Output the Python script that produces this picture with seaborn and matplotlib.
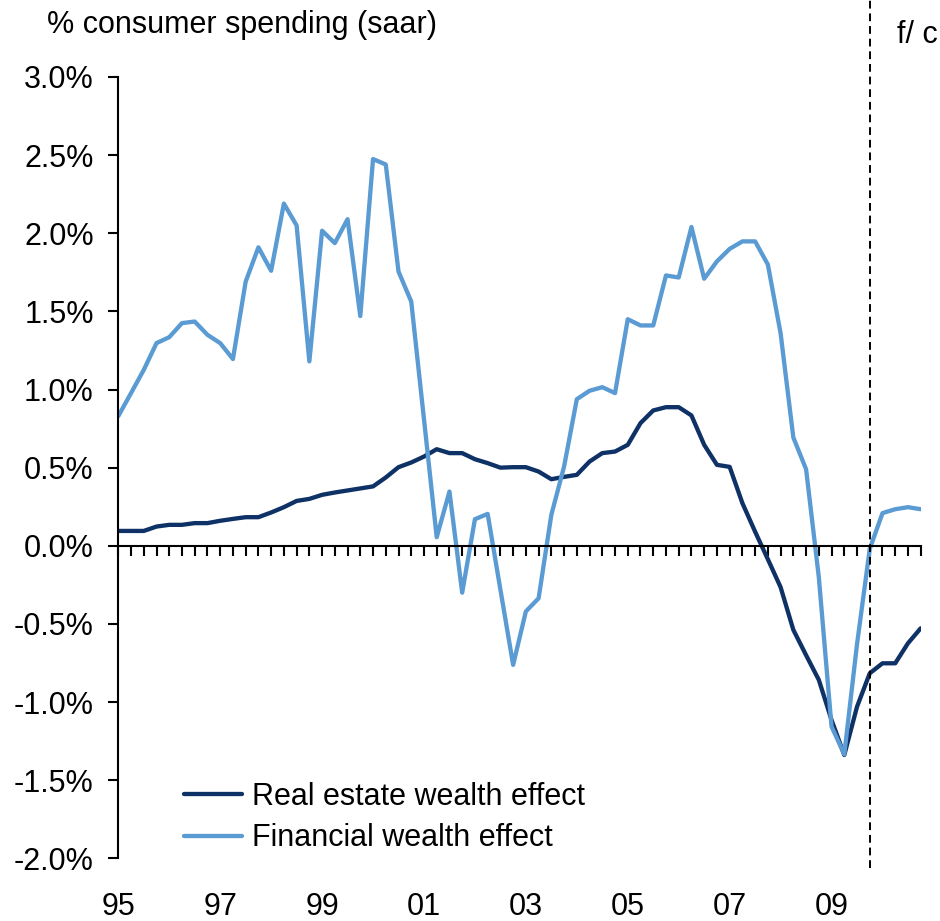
import matplotlib
matplotlib.use("Agg")
import matplotlib.pyplot as plt
import seaborn as sns
import pandas as pd
import numpy as np

# Quarterly data, 1995Q1 .. 2010Q4 (index 0..63)
quarters = list(range(64))

real_estate = [
    0.095, 0.095, 0.095, 0.123, 0.134, 0.134, 0.145, 0.145,   # 95-96
    0.160, 0.172, 0.183, 0.183, 0.213, 0.247, 0.287, 0.300,   # 97-98
    0.326, 0.341, 0.354, 0.367, 0.380, 0.437, 0.503, 0.533,   # 99-00
    0.571, 0.618, 0.593, 0.593, 0.554, 0.529, 0.500, 0.503,   # 01-02
    0.503, 0.475, 0.426, 0.441, 0.454, 0.539, 0.593, 0.603,   # 03-04
    0.646, 0.785, 0.866, 0.887, 0.887, 0.834, 0.646, 0.518,   # 05-06
    0.505, 0.273, 0.090, -0.086, -0.265, -0.538, -0.700, -0.858,  # 07-08
    -1.115, -1.339, -1.030, -0.816, -0.752, -0.752, -0.624, -0.528,  # 09-10
]

financial = [
    0.830, 0.977, 1.126, 1.297, 1.335, 1.425, 1.435, 1.350,   # 95-96
    1.297, 1.195, 1.690, 1.910, 1.760, 2.190, 2.050, 1.180,   # 97-98
    2.016, 1.937, 2.090, 1.470, 2.475, 2.440, 1.755, 1.563,   # 99-00
    0.810, 0.055, 0.347, -0.300, 0.170, 0.204, -0.280, -0.762,  # 01-02
    -0.420, -0.336, 0.198, 0.507, 0.938, 0.992, 1.015, 0.977,  # 03-04
    1.450, 1.410, 1.410, 1.730, 1.717, 2.040, 1.709, 1.820,   # 05-06
    1.900, 1.948, 1.948, 1.800, 1.360, 0.693, 0.490, -0.200,  # 07-08
    -1.157, -1.335, -0.630, -0.020, 0.209, 0.234, 0.247, 0.234,  # 09-10
]

series_names = ["Real estate wealth effect", "Financial wealth effect"]
series_colors = ["#0E3166", "#5B9BD3"]
year_ticks = [0, 8, 16, 24, 32, 40, 48, 56]
year_labels = ["95", "97", "99", "01", "03", "05", "07", "09"]
y_ticks = [-2.0, -1.5, -1.0, -0.5, 0.0, 0.5, 1.0, 1.5, 2.0, 2.5, 3.0]
forecast_start = 59

df = pd.concat([
    pd.DataFrame({"q": quarters, "value": real_estate, "series": series_names[0]}),
    pd.DataFrame({"q": quarters, "value": financial, "series": series_names[1]}),
])

sns.set_theme(style="white")
plt.rcParams["font.family"] = ["Liberation Sans", "DejaVu Sans"]
plt.rcParams["text.color"] = "black"
FS = 22
LW = 3.1

fig = plt.figure(figsize=(9.4, 9.21), dpi=100)
ax = fig.add_axes([118.3 / 940, 1 - 858.3 / 921, (920.7 - 118.3) / 940, (858.3 - 77) / 921])

sns.lineplot(data=df, x="q", y="value", hue="series", hue_order=series_names,
             palette=series_colors, linewidth=LW, ax=ax, legend=False)

ax.set_xlim(0, 63)
ax.set_ylim(-2.0, 3.0)
ax.set_xlabel("")
ax.set_ylabel("")

# y axis
ax.set_yticks(y_ticks)
ax.set_yticklabels([f"{v:.1f}%" for v in y_ticks], fontsize=FS, color="black")
ax.tick_params(axis="y", direction="out", length=7.2, width=1.5, color="black",
               pad=10.5, left=True)

# spines
for s in ["top", "right"]:
    ax.spines[s].set_visible(False)
ax.spines["left"].set_color("black")
ax.spines["left"].set_linewidth(1.5)
ax.spines["bottom"].set_position(("data", 0))
ax.spines["bottom"].set_color("black")
ax.spines["bottom"].set_linewidth(1.5)

# quarterly tick marks on zero line
ax.set_xticks(quarters)
ax.set_xticklabels([])
ax.tick_params(axis="x", direction="out", length=7.2, width=1.5, color="black", bottom=True)

# year labels at bottom
sec = ax.secondary_xaxis(0.0)
sec.set_xticks(year_ticks)
sec.set_xticklabels(year_labels, fontsize=FS, color="black")
sec.tick_params(length=0, pad=24)
sec.spines["bottom"].set_visible(False)

# forecast divider
ax.axvline(forecast_start, ymin=-0.0124, ymax=77 / 781 + 1.0, clip_on=False,
           color="black", linewidth=1.4, linestyle=(0, (4, 2.5)))

# legend
handles = [plt.Line2D([], [], color=c, linewidth=LW) for c in series_colors]
leg = ax.legend(handles, series_names, loc="upper left", bbox_to_anchor=(0.082, 0.098),
                frameon=False, fontsize=FS, handlelength=1.9, handletextpad=0.33,
                labelspacing=0.38, borderpad=0, borderaxespad=0)
for t in leg.get_texts():
    t.set_color("black")

fig.text(47 / 940, 1 - 33 / 921, "% consumer spending (saar)", fontsize=FS,
         ha="left", va="baseline", color="black")
fig.text(897 / 940, 1 - 43 / 921, "f/ c", fontsize=FS, ha="left", va="baseline",
         color="black")

fig.savefig("out.png", dpi=100)
